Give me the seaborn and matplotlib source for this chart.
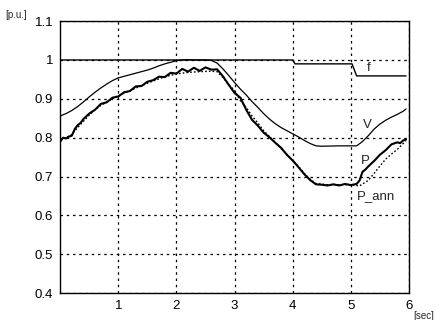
import matplotlib
matplotlib.use("Agg")
import matplotlib.pyplot as plt
import seaborn as sns
import pandas as pd

# ---- data ----
t_f = [0.0, 4.0, 4.04, 5.02, 5.1, 5.95]
f_vals = [1.0, 1.0, 0.99, 0.99, 0.959, 0.959]

t_v = [0.0, 0.1, 0.2, 0.3, 0.4, 0.5, 0.6, 0.7, 0.8, 0.9, 1.0, 1.1, 1.2, 1.3, 1.4,
       1.5, 1.6, 1.7, 1.8, 1.9, 2.0, 2.1, 2.2, 2.3, 2.4, 2.5, 2.6, 2.7, 2.8, 2.9,
       3.0, 3.1, 3.2, 3.3, 3.4, 3.5, 3.6, 3.7, 3.8, 3.9, 4.0, 4.1, 4.2, 4.3, 4.4,
       4.5, 4.8, 5.1, 5.2, 5.3, 5.4, 5.5, 5.6, 5.7, 5.8, 5.9, 5.95]
v_vals = [0.856, 0.862, 0.870, 0.880, 0.892, 0.905, 0.917, 0.928, 0.938, 0.947,
          0.954, 0.958, 0.962, 0.966, 0.970, 0.974, 0.979, 0.985, 0.990, 0.994,
          0.998, 1.000, 1.001, 1.000, 1.000, 1.000, 0.999, 0.992, 0.977, 0.960,
          0.942, 0.925, 0.910, 0.893, 0.878, 0.862, 0.848, 0.836, 0.826, 0.818,
          0.810, 0.802, 0.793, 0.785, 0.779, 0.778, 0.779, 0.779, 0.790, 0.805,
          0.822, 0.835, 0.845, 0.853, 0.860, 0.868, 0.874]

t_p = [0.0, 0.05, 0.1, 0.15, 0.2, 0.25, 0.3, 0.35, 0.4, 0.5, 0.6, 0.7, 0.8, 0.9,
       1.0, 1.1, 1.2, 1.3, 1.4, 1.5, 1.6, 1.7, 1.8, 1.9, 2.0, 2.1, 2.2, 2.3, 2.4,
       2.5, 2.6, 2.7, 2.8, 2.9, 3.0, 3.1, 3.2, 3.3, 3.4, 3.5, 3.6, 3.7, 3.8, 3.9,
       4.0, 4.1, 4.2, 4.3, 4.4, 4.5, 4.6, 4.7, 4.8, 4.9, 5.0, 5.1, 5.15, 5.2, 5.25,
       5.3, 5.4, 5.5, 5.6, 5.7, 5.8, 5.85, 5.9, 5.95]
p_vals = [0.790, 0.800, 0.798, 0.803, 0.805, 0.822, 0.832, 0.838, 0.848, 0.862,
          0.872, 0.887, 0.891, 0.903, 0.906, 0.917, 0.920, 0.932, 0.933, 0.944,
          0.948, 0.957, 0.956, 0.967, 0.965, 0.977, 0.970, 0.980, 0.972, 0.981,
          0.975, 0.976, 0.958, 0.936, 0.915, 0.903, 0.872, 0.846, 0.831, 0.813,
          0.801, 0.787, 0.774, 0.756, 0.741, 0.724, 0.706, 0.691, 0.680, 0.679,
          0.677, 0.680, 0.677, 0.681, 0.678, 0.681, 0.690, 0.712, 0.718, 0.726,
          0.740, 0.756, 0.768, 0.783, 0.788, 0.786, 0.793, 0.795]

t_pa = [0.0, 0.1, 0.2, 0.3, 0.4, 0.5, 0.6, 0.7, 0.8, 0.9, 1.0, 1.2, 1.4, 1.6,
        1.8, 2.0, 2.2, 2.4, 2.6, 2.7, 2.8, 2.9, 3.0, 3.1, 3.2, 3.3, 3.4, 3.5,
        3.6, 3.7, 3.8, 3.9, 4.0, 4.1, 4.2, 4.3, 4.4, 4.6, 4.8, 5.0, 5.15, 5.3,
        5.4, 5.5, 5.6, 5.7, 5.8, 5.9, 5.95]
pa_vals = [0.795, 0.800, 0.808, 0.826, 0.842, 0.858, 0.872, 0.883, 0.892, 0.900,
           0.908, 0.921, 0.934, 0.946, 0.957, 0.964, 0.968, 0.970, 0.971, 0.970,
           0.955, 0.936, 0.922, 0.895, 0.878, 0.856, 0.838, 0.818, 0.803, 0.788,
           0.772, 0.757, 0.742, 0.726, 0.708, 0.693, 0.682, 0.679, 0.679, 0.679,
           0.676, 0.690, 0.708, 0.727, 0.745, 0.758, 0.770, 0.785, 0.790]

x_ticks = [1, 2, 3, 4, 5, 6]
y_ticks = [0.4, 0.5, 0.6, 0.7, 0.8, 0.9, 1.0, 1.1]
y_labels = ["0.4", "0.5", "0.6", "0.7", "0.8", "0.9", "1", "1.1"]

sns.set_style("white")
plt.rcParams["font.family"] = ["Liberation Sans", "DejaVu Sans"]

fig = plt.figure(figsize=(4.36, 3.2), dpi=100)
ax = fig.add_axes([0.138, 0.084, 0.800, 0.850])

sns.lineplot(x=t_f, y=f_vals, ax=ax, color="black", linewidth=1.0)
sns.lineplot(x=t_v, y=v_vals, ax=ax, color="black", linewidth=0.9)
sns.lineplot(x=t_pa, y=pa_vals, ax=ax, color="black", linewidth=1.0,
             linestyle=(0, (1.2, 1.5)))
sns.lineplot(x=t_p, y=p_vals, ax=ax, color="black", linewidth=1.5)

ax.set_xlim(0, 6)
ax.set_ylim(0.4, 1.1)
ax.set_xticks(x_ticks)
ax.set_yticks(y_ticks)
ax.set_yticklabels(y_labels)
ax.tick_params(axis="both", labelsize=9.5, length=0, pad=5, colors="black")
ax.grid(True, color="black", linestyle=(0, (2, 3)), linewidth=0.9)
for s in ax.spines.values():
    s.set_color("black")
    s.set_linewidth(1.0)

ax.text(5.27, 0.972, "f", fontsize=9.5)
ax.text(5.2, 0.826, "V", fontsize=9.5)
ax.text(5.18, 0.732, "P", fontsize=9.5)
ax.text(5.1, 0.642, "P_ann", fontsize=9.5)
fig.text(0.012, 0.945, "[p.u.]", fontsize=7)
fig.text(0.948, 0.004, "[sec]", fontsize=7)

fig.savefig("out.png", dpi=100)
